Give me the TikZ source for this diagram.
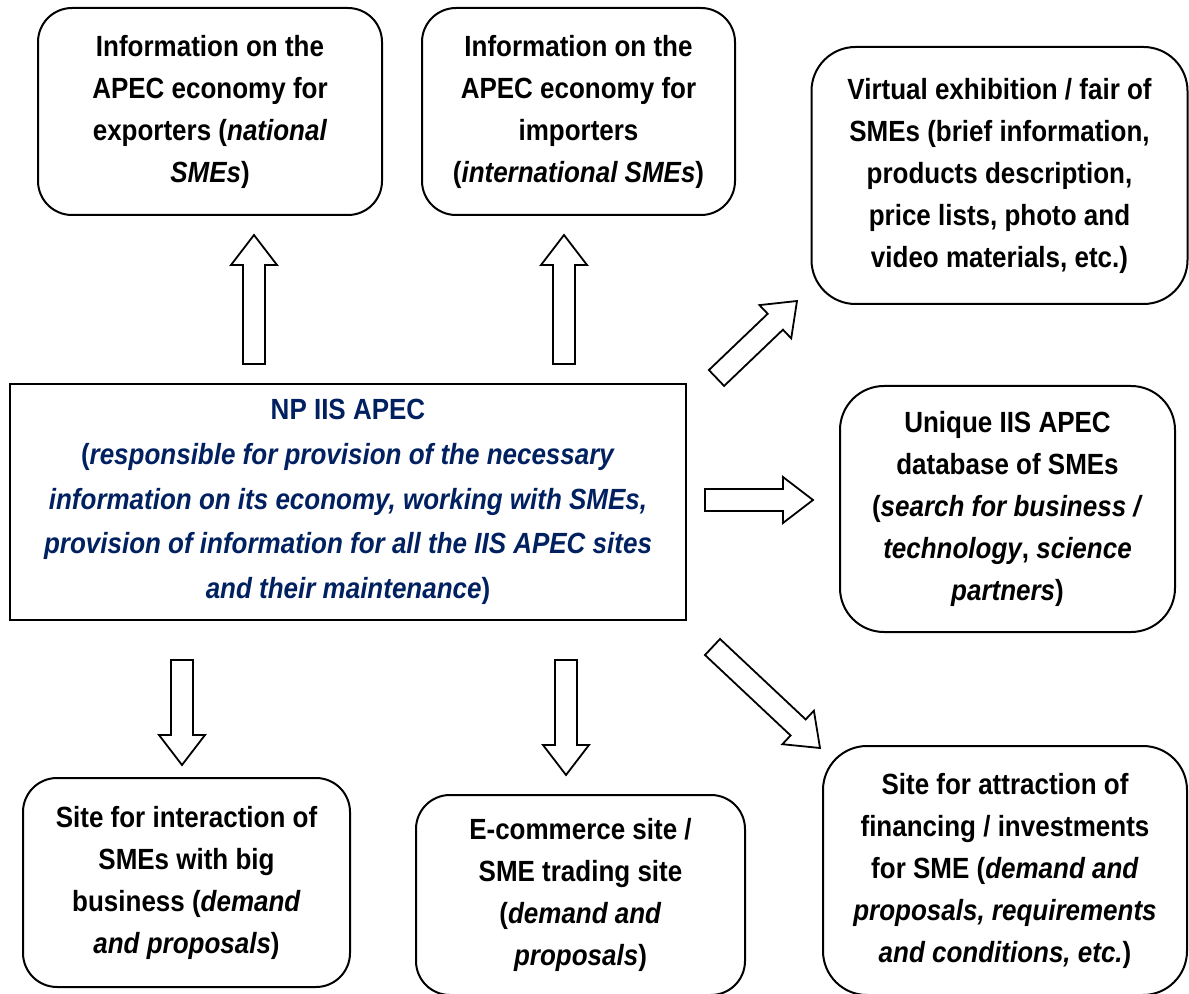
\documentclass[tikz,border=0pt]{standalone}
\usepackage{fontspec}
\setmainfont{Liberation Sans}[FakeStretch=0.89]
\usetikzlibrary{calc}
\definecolor{navy}{RGB}{0,32,96}
\tikzset{
  rbox/.style={draw, line width=1pt, rounded corners=17pt, align=center, inner sep=0pt,
    font=\fontsize{14.6}{21}\selectfont\bfseries},
  cbox/.style={draw, line width=0.8pt, align=center, inner sep=0pt, text=navy,
    font=\fontsize{14.6}{22.4}\selectfont\bfseries},
  blk/.style={draw, line width=0.9pt, fill=white, line join=miter}
}
\newcommand\blkarrow[2]{%
  \path ($(#2)!15pt!(#1)$) coordinate (#1-n);
  \draw[blk] ($(#1)!5.5pt!90:(#2)$) -- ($(#1-n)!5.5pt!-90:(#1)$) -- ($(#1-n)!11.5pt!-90:(#1)$) -- (#2)
    -- ($(#1-n)!11.5pt!90:(#1)$) -- ($(#1-n)!5.5pt!90:(#1)$) -- ($(#1)!5.5pt!-90:(#2)$) -- cycle;}
\begin{document}
\begin{tikzpicture}[x=0.5pt,y=-0.5pt]
\useasboundingbox (0,0) rectangle (1189,994);
\node[rbox, minimum width=172pt, minimum height=103.5pt] (b1) at (210,111.5)
  {Information on the\\APEC economy for\\exporters (\textit{national}\\\textit{SMEs})};
\node[rbox, minimum width=156.5pt, minimum height=103.5pt] (b2) at (578.5,111.5)
  {Information on the\\APEC economy for\\importers\\(\textit{international SMEs})};
\node[rbox, rounded corners=22pt, minimum width=188pt, minimum height=128.5pt] (b3) at (999.5,175.5)
  {Virtual exhibition / fair of\\SMEs (brief information,\\products description,\\price lists, photo and\\video materials, etc.)};
\node[cbox, minimum width=338pt, minimum height=118pt] (c) at (348,502)
  {NP IIS APEC\\(\textit{responsible for provision of the necessary}\\\textit{information on its economy, working with SMEs,}\\\textit{provision of information for all the IIS APEC sites}\\\textit{and their maintenance})};
\node[rbox, rounded corners=22pt, minimum width=167.5pt, minimum height=123pt] (b5) at (1007.5,509)
  {Unique IIS APEC\\database of SMEs\\(\textit{search for business /}\\\textit{technology}, \textit{science}\\\textit{partners})};
\node[rbox, minimum width=163.5pt, minimum height=104.5pt] (b6) at (186.5,882.5)
  {Site for interaction of\\SMEs with big\\business (\textit{demand}\\\textit{and proposals})};
\node[rbox, minimum width=164.5pt, minimum height=100pt] (b7) at (580.5,895)
  {E-commerce site /\\SME trading site\\(\textit{demand and}\\\textit{proposals})};
\node[rbox, rounded corners=22pt, minimum width=182pt, minimum height=124.5pt] (b8) at (1005,870.5)
  {Site for attraction of\\financing / investments\\for SME (\textit{demand and}\\\textit{proposals, requirements}\\\textit{and conditions, etc.})};
% block arrows
\coordinate (u1) at (254,364); \coordinate (u1e) at (254,235);
\coordinate (u2) at (564,364); \coordinate (u2e) at (564,235);
\coordinate (d1) at (182,660); \coordinate (d1e) at (182,765);
\coordinate (d2) at (566,660); \coordinate (d2e) at (566,775);
\coordinate (r1) at (705,500); \coordinate (r1e) at (813,500);
\coordinate (g1) at (716.5,378); \coordinate (g1e) at (797,301);
\coordinate (g2) at (712.5,647); \coordinate (g2e) at (820,748);
\blkarrow{u1}{u1e}
\blkarrow{u2}{u2e}
\blkarrow{d1}{d1e}
\blkarrow{d2}{d2e}
\blkarrow{r1}{r1e}
\blkarrow{g1}{g1e}
\blkarrow{g2}{g2e}
\end{tikzpicture}
\end{document}
